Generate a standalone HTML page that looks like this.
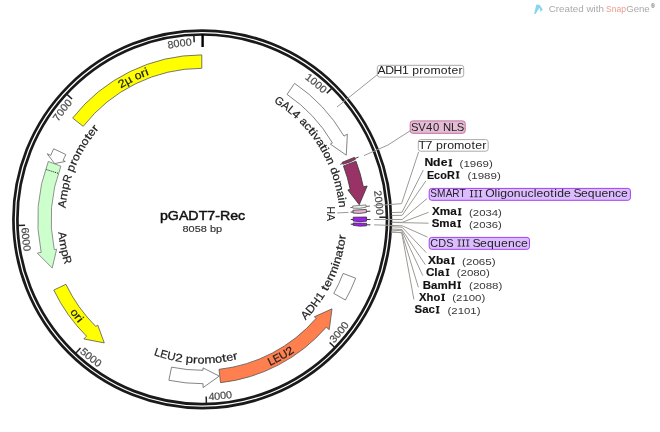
<!DOCTYPE html>
<html><head><meta charset="utf-8"><style>
html,body{margin:0;padding:0;background:#fff;width:660px;height:432px;overflow:hidden}
svg{display:block;will-change:transform}
text{font-family:"Liberation Sans", sans-serif}
.tk{stroke:#4a4a4a;stroke-width:0.2}
.lb{stroke:#222;stroke-width:0.2}
</style></head><body>
<svg width="660" height="432" viewBox="0 0 660 432">
<defs>
</defs>
<circle cx="202.2" cy="219.3" r="188.75" fill="none" stroke="#1a1a1a" stroke-width="2.7"/>
<circle cx="202.2" cy="219.3" r="184.8" fill="none" stroke="#1a1a1a" stroke-width="2.7"/>
<line x1="331.92" y1="88.10" x2="326.79" y2="93.29" stroke="#222" stroke-width="1.5"/>
<line x1="386.69" y1="217.21" x2="379.39" y2="217.30" stroke="#222" stroke-width="1.5"/>
<line x1="334.85" y1="347.53" x2="329.61" y2="342.46" stroke="#222" stroke-width="1.5"/>
<line x1="206.37" y1="403.75" x2="206.21" y2="396.45" stroke="#222" stroke-width="1.5"/>
<line x1="75.48" y1="353.40" x2="80.49" y2="348.09" stroke="#222" stroke-width="1.5"/>
<line x1="17.81" y1="225.56" x2="25.10" y2="225.31" stroke="#222" stroke-width="1.5"/>
<line x1="66.68" y1="94.10" x2="72.04" y2="99.06" stroke="#222" stroke-width="1.5"/>
<line x1="193.86" y1="34.99" x2="194.19" y2="42.28" stroke="#222" stroke-width="1.5"/>
<line x1="202.6" y1="34.30000000000001" x2="202.6" y2="47.0" stroke="#000" stroke-width="2.4"/>
<path id="tk1" d="M156.22,51.49 A174.0,174.0 0 0 1 322.82,93.89" fill="none"/>
<text class="tk" font-size="10.4" fill="#4a4a4a"><textPath href="#tk1" startOffset="100%" text-anchor="end" textLength="24" lengthAdjust="spacingAndGlyphs">1000</textPath></text>
<path id="tk2" d="M287.49,67.64 A174.0,174.0 0 0 1 376.15,214.93" fill="none"/>
<text class="tk" font-size="10.4" fill="#4a4a4a"><textPath href="#tk2" startOffset="100%" text-anchor="end" textLength="24" lengthAdjust="spacingAndGlyphs">2000</textPath></text>
<path id="tk3" d="M333.99,343.36 A181.0,181.0 0 0 0 376.21,169.50" fill="none"/>
<text class="tk" font-size="10.4" fill="#4a4a4a"><textPath href="#tk3" startOffset="0" text-anchor="start" textLength="24" lengthAdjust="spacingAndGlyphs">3000</textPath></text>
<path id="tk4" d="M208.69,400.18 A181.0,181.0 0 0 0 360.96,306.23" fill="none"/>
<text class="tk" font-size="10.4" fill="#4a4a4a"><textPath href="#tk4" startOffset="0" text-anchor="start" textLength="24" lengthAdjust="spacingAndGlyphs">4000</textPath></text>
<path id="tk5" d="M79.64,352.49 A181.0,181.0 0 0 0 253.97,392.74" fill="none"/>
<text class="tk" font-size="10.4" fill="#4a4a4a"><textPath href="#tk5" startOffset="0" text-anchor="start" textLength="24" lengthAdjust="spacingAndGlyphs">5000</textPath></text>
<path id="tk6" d="M21.40,227.84 A181.0,181.0 0 0 0 117.07,379.03" fill="none"/>
<text class="tk" font-size="10.4" fill="#4a4a4a"><textPath href="#tk6" startOffset="0" text-anchor="start" textLength="24" lengthAdjust="spacingAndGlyphs">6000</textPath></text>
<path id="tk7" d="M36.04,270.95 A174.0,174.0 0 0 1 72.78,103.00" fill="none"/>
<text class="tk" font-size="10.4" fill="#4a4a4a"><textPath href="#tk7" startOffset="100%" text-anchor="end" textLength="24" lengthAdjust="spacingAndGlyphs">7000</textPath></text>
<path id="tk8" d="M47.73,139.20 A174.0,174.0 0 0 1 191.94,45.60" fill="none"/>
<text class="tk" font-size="10.4" fill="#4a4a4a"><textPath href="#tk8" startOffset="100%" text-anchor="end" textLength="24" lengthAdjust="spacingAndGlyphs">8000</textPath></text>
<path d="M72.65,118.09 A164.4,164.4 0 0 1 201.77,54.90 L201.80,68.30 A151.0,151.0 0 0 0 83.21,126.34 Z" fill="#ffff00" stroke="#555" stroke-width="0.8"/>
<path d="M48.31,161.46 A164.4,164.4 0 0 0 41.16,252.36 L37.34,253.14 L52.22,268.03 L56.64,249.18 L54.28,249.66 A151.0,151.0 0 0 1 60.86,166.17 Z" fill="#ccffcc" stroke="#777" stroke-width="0.8"/>
<line x1="57.87" y1="173.24" x2="46.06" y2="169.47" stroke="#000" stroke-width="1" stroke-dasharray="1,1.2"/>
<path d="M53.69,148.78 A164.4,164.4 0 0 0 50.76,155.33 L47.16,153.81 L54.68,163.56 L65.31,161.48 L63.10,160.54 A151.0,151.0 0 0 1 65.80,154.53 Z" fill="#fff" stroke="#666" stroke-width="0.8"/>
<path d="M53.81,290.08 A164.4,164.4 0 0 0 86.56,336.16 L83.82,338.93 L104.24,342.89 L97.68,324.92 L95.99,326.63 A151.0,151.0 0 0 1 65.91,284.31 Z" fill="#ffff00" stroke="#555" stroke-width="0.8"/>
<path d="M168.86,380.28 A164.4,164.4 0 0 0 203.06,383.70 L203.08,387.60 L219.23,376.08 L202.98,367.90 L202.99,370.30 A151.0,151.0 0 0 1 171.58,367.16 Z" fill="#fff" stroke="#666" stroke-width="0.8"/>
<path d="M220.53,382.68 A164.4,164.4 0 0 0 326.27,327.16 L329.22,329.71 L332.01,308.85 L314.35,316.79 L316.16,318.36 A151.0,151.0 0 0 1 219.03,369.36 Z" fill="#ff7f4f" stroke="#555" stroke-width="0.8"/>
<path d="M355.68,278.22 A164.4,164.4 0 0 1 345.43,300.00 L333.75,293.43 A151.0,151.0 0 0 0 343.17,273.41 Z" fill="#fff" stroke="#666" stroke-width="0.8"/>
<path d="M294.61,83.33 A164.4,164.4 0 0 1 344.00,136.11 L347.36,134.13 L346.27,155.16 L330.37,144.10 L332.44,142.89 A151.0,151.0 0 0 0 287.07,94.41 Z" fill="#fff" stroke="#666" stroke-width="0.8"/>
<path d="M355.99,161.19 A164.4,164.4 0 0 1 363.36,186.81 L367.18,186.03 L359.23,204.73 L347.87,189.93 L350.22,189.45 A151.0,151.0 0 0 0 343.45,165.93 Z" fill="#993366" stroke="#333" stroke-width="0.8"/>
<line x1="352.73" y1="207.43" x2="350.34" y2="207.62" stroke="#555" stroke-width="0.9"/><line x1="366.09" y1="206.37" x2="369.98" y2="206.07" stroke="#555" stroke-width="0.9"/><path d="M365.97,204.91 A164.4,164.4 0 0 1 366.15,207.21 L359.52,208.30 L352.79,208.19 A151.0,151.0 0 0 0 352.62,206.09 Z" fill="#f2f2f2" stroke="#555" stroke-width="0.7"/>
<line x1="342.50" y1="163.47" x2="340.27" y2="164.36" stroke="#333" stroke-width="0.9"/><line x1="354.95" y1="158.51" x2="358.57" y2="157.07" stroke="#333" stroke-width="0.9"/><path d="M354.47,157.32 A164.4,164.4 0 0 1 355.32,159.45 L349.28,162.40 L342.84,164.33 A151.0,151.0 0 0 0 342.06,162.37 Z" fill="#993366" stroke="#333" stroke-width="0.7"/>
<line x1="353.02" y1="212.02" x2="350.63" y2="212.14" stroke="#222" stroke-width="0.9"/><line x1="366.41" y1="211.38" x2="370.30" y2="211.19" stroke="#222" stroke-width="0.9"/><path d="M366.30,209.40 A164.4,164.4 0 0 1 366.46,212.52 L359.79,213.40 L353.07,213.08 A151.0,151.0 0 0 0 352.93,210.20 Z" fill="#e6b2d2" stroke="#222" stroke-width="0.7"/>
<line x1="353.20" y1="219.49" x2="350.80" y2="219.49" stroke="#222" stroke-width="0.9"/><line x1="366.60" y1="219.51" x2="370.50" y2="219.51" stroke="#222" stroke-width="0.9"/><path d="M366.58,217.01 A164.4,164.4 0 0 1 366.59,221.18 L359.88,221.70 L353.19,221.02 A151.0,151.0 0 0 0 353.19,217.19 Z" fill="#a020f0" stroke="#222" stroke-width="0.7"/>
<line x1="353.12" y1="224.28" x2="350.72" y2="224.20" stroke="#222" stroke-width="0.9"/><line x1="366.51" y1="224.72" x2="370.41" y2="224.85" stroke="#222" stroke-width="0.9"/><path d="M366.55,223.26 A164.4,164.4 0 0 1 366.47,225.87 L359.75,226.20 L353.08,225.33 A151.0,151.0 0 0 0 353.16,222.94 Z" fill="#a020f0" stroke="#222" stroke-width="0.7"/>
<text class="lb" x="0" y="0" text-anchor="middle" font-size="11.2" fill="#222" transform="translate(123.68 86.82) rotate(329.34) scale(1.134 1)">2</text>
<text class="lb" x="0" y="0" text-anchor="middle" font-size="11.2" fill="#222" transform="translate(129.83 83.36) rotate(331.97) scale(1.094 1)">µ</text>
<text class="lb" x="0" y="0" text-anchor="middle" font-size="11.2" fill="#222" transform="translate(139.22 78.77) rotate(335.86) scale(1.090 1)">o</text>
<text class="lb" x="0" y="0" text-anchor="middle" font-size="11.2" fill="#222" transform="translate(144.44 76.54) rotate(337.97) scale(1.224 1)">r</text>
<text class="lb" x="0" y="0" text-anchor="middle" font-size="11.2" fill="#222" transform="translate(148.01 75.15) rotate(339.40) scale(1.239 1)">i</text>
<text class="lb" x="0" y="0" text-anchor="middle" font-size="11.2" fill="#222" transform="translate(65.79 204.57) rotate(276.16) scale(1.014 1)">A</text>
<text class="lb" x="0" y="0" text-anchor="middle" font-size="11.2" fill="#222" transform="translate(67.08 195.48) rotate(280.00) scale(1.156 1)">m</text>
<text class="lb" x="0" y="0" text-anchor="middle" font-size="11.2" fill="#222" transform="translate(68.91 186.77) rotate(283.72) scale(1.128 1)">p</text>
<text class="lb" x="0" y="0" text-anchor="middle" font-size="11.2" fill="#222" transform="translate(70.85 179.67) rotate(286.79) scale(0.951 1)">R</text>
<text class="lb" x="0" y="0" text-anchor="middle" font-size="11.2" fill="#222" transform="translate(74.40 169.39) rotate(291.33) scale(1.128 1)">p</text>
<text class="lb" x="0" y="0" text-anchor="middle" font-size="11.2" fill="#222" transform="translate(76.62 164.04) rotate(293.75) scale(1.220 1)">r</text>
<text class="lb" x="0" y="0" text-anchor="middle" font-size="11.2" fill="#222" transform="translate(79.01 158.91) rotate(296.11) scale(1.087 1)">o</text>
<text class="lb" x="0" y="0" text-anchor="middle" font-size="11.2" fill="#222" transform="translate(83.12 151.16) rotate(299.78) scale(1.156 1)">m</text>
<text class="lb" x="0" y="0" text-anchor="middle" font-size="11.2" fill="#222" transform="translate(87.72 143.68) rotate(303.44) scale(1.087 1)">o</text>
<text class="lb" x="0" y="0" text-anchor="middle" font-size="11.2" fill="#222" transform="translate(90.87 139.11) rotate(305.77) scale(1.350 1)">t</text>
<text class="lb" x="0" y="0" text-anchor="middle" font-size="11.2" fill="#222" transform="translate(94.22 134.65) rotate(308.09) scale(1.094 1)">e</text>
<text class="lb" x="0" y="0" text-anchor="middle" font-size="11.2" fill="#222" transform="translate(97.82 130.26) rotate(310.47) scale(1.220 1)">r</text>
<text class="lb" x="0" y="0" text-anchor="middle" font-size="11.2" fill="#222" transform="translate(58.57 236.00) rotate(83.37) scale(1.016 1)">A</text>
<text class="lb" x="0" y="0" text-anchor="middle" font-size="11.2" fill="#222" transform="translate(59.92 245.11) rotate(79.72) scale(1.159 1)">m</text>
<text class="lb" x="0" y="0" text-anchor="middle" font-size="11.2" fill="#222" transform="translate(61.79 253.84) rotate(76.18) scale(1.131 1)">p</text>
<text class="lb" x="0" y="0" text-anchor="middle" font-size="11.2" fill="#222" transform="translate(63.73 260.96) rotate(73.26) scale(0.954 1)">R</text>
<text class="lb" x="0" y="0" text-anchor="middle" font-size="11.2" fill="#222" transform="translate(71.70 314.62) rotate(53.86) scale(1.090 1)">o</text>
<text class="lb" x="0" y="0" text-anchor="middle" font-size="11.2" fill="#222" transform="translate(75.13 319.14) rotate(51.84) scale(1.224 1)">r</text>
<text class="lb" x="0" y="0" text-anchor="middle" font-size="11.2" fill="#222" transform="translate(77.53 322.12) rotate(50.49) scale(1.239 1)">i</text>
<text class="lb" x="0" y="0" text-anchor="middle" font-size="11.2" fill="#222" transform="translate(156.53 356.08) rotate(18.46) scale(1.023 1)">L</text>
<text class="lb" x="0" y="0" text-anchor="middle" font-size="11.2" fill="#222" transform="translate(163.03 358.08) rotate(15.76) scale(0.968 1)">E</text>
<text class="lb" x="0" y="0" text-anchor="middle" font-size="11.2" fill="#222" transform="translate(170.59 359.99) rotate(12.66) scale(1.035 1)">U</text>
<text class="lb" x="0" y="0" text-anchor="middle" font-size="11.2" fill="#222" transform="translate(178.27 361.50) rotate(9.55) scale(1.169 1)">2</text>
<text class="lb" x="0" y="0" text-anchor="middle" font-size="11.2" fill="#222" transform="translate(189.08 362.90) rotate(5.22) scale(1.166 1)">p</text>
<text class="lb" x="0" y="0" text-anchor="middle" font-size="11.2" fill="#222" transform="translate(195.05 363.32) rotate(2.84) scale(1.261 1)">r</text>
<text class="lb" x="0" y="0" text-anchor="middle" font-size="11.2" fill="#222" transform="translate(200.90 363.49) rotate(0.52) scale(1.124 1)">o</text>
<text class="lb" x="0" y="0" text-anchor="middle" font-size="11.2" fill="#222" transform="translate(209.97 363.29) rotate(-3.09) scale(1.194 1)">m</text>
<text class="lb" x="0" y="0" text-anchor="middle" font-size="11.2" fill="#222" transform="translate(219.00 362.52) rotate(-6.69) scale(1.124 1)">o</text>
<text class="lb" x="0" y="0" text-anchor="middle" font-size="11.2" fill="#222" transform="translate(224.69 361.74) rotate(-8.97) scale(1.350 1)">t</text>
<text class="lb" x="0" y="0" text-anchor="middle" font-size="11.2" fill="#222" transform="translate(230.36 360.72) rotate(-11.26) scale(1.130 1)">e</text>
<text class="lb" x="0" y="0" text-anchor="middle" font-size="11.2" fill="#222" transform="translate(236.09 359.46) rotate(-13.59) scale(1.261 1)">r</text>
<text class="lb" x="0" y="0" text-anchor="middle" font-size="11.2" fill="#222" transform="translate(272.70 364.71) rotate(-25.86) scale(0.993 1)">L</text>
<text class="lb" x="0" y="0" text-anchor="middle" font-size="11.2" fill="#222" transform="translate(278.57 361.71) rotate(-28.20) scale(0.939 1)">E</text>
<text class="lb" x="0" y="0" text-anchor="middle" font-size="11.2" fill="#222" transform="translate(285.16 357.98) rotate(-30.89) scale(1.004 1)">U</text>
<text class="lb" x="0" y="0" text-anchor="middle" font-size="11.2" fill="#222" transform="translate(291.58 353.93) rotate(-33.58) scale(1.134 1)">2</text>
<text class="lb" x="0" y="0" text-anchor="middle" font-size="11.2" fill="#222" transform="translate(308.20 317.36) rotate(-47.23) scale(1.032 1)">A</text>
<text class="lb" x="0" y="0" text-anchor="middle" font-size="11.2" fill="#222" transform="translate(313.59 311.19) rotate(-50.48) scale(1.072 1)">D</text>
<text class="lb" x="0" y="0" text-anchor="middle" font-size="11.2" fill="#222" transform="translate(318.85 304.42) rotate(-53.88) scale(1.047 1)">H</text>
<text class="lb" x="0" y="0" text-anchor="middle" font-size="11.2" fill="#222" transform="translate(323.28 297.98) rotate(-56.98) scale(1.151 1)">1</text>
<text class="lb" x="0" y="0" text-anchor="middle" font-size="11.2" fill="#222" transform="translate(328.13 289.96) rotate(-60.70) scale(1.350 1)">t</text>
<text class="lb" x="0" y="0" text-anchor="middle" font-size="11.2" fill="#222" transform="translate(330.81 284.96) rotate(-62.95) scale(1.113 1)">e</text>
<text class="lb" x="0" y="0" text-anchor="middle" font-size="11.2" fill="#222" transform="translate(333.33 279.76) rotate(-65.25) scale(1.242 1)">r</text>
<text class="lb" x="0" y="0" text-anchor="middle" font-size="11.2" fill="#222" transform="translate(336.41 272.59) rotate(-68.34) scale(1.176 1)">m</text>
<text class="lb" x="0" y="0" text-anchor="middle" font-size="11.2" fill="#222" transform="translate(338.85 265.97) rotate(-71.14) scale(1.258 1)">i</text>
<text class="lb" x="0" y="0" text-anchor="middle" font-size="11.2" fill="#222" transform="translate(340.42 261.09) rotate(-73.18) scale(1.146 1)">n</text>
<text class="lb" x="0" y="0" text-anchor="middle" font-size="11.2" fill="#222" transform="translate(342.29 254.32) rotate(-75.96) scale(1.108 1)">a</text>
<text class="lb" x="0" y="0" text-anchor="middle" font-size="11.2" fill="#222" transform="translate(343.55 248.80) rotate(-78.21) scale(1.350 1)">t</text>
<text class="lb" x="0" y="0" text-anchor="middle" font-size="11.2" fill="#222" transform="translate(344.60 243.25) rotate(-80.45) scale(1.107 1)">o</text>
<text class="lb" x="0" y="0" text-anchor="middle" font-size="11.2" fill="#222" transform="translate(345.44 237.55) rotate(-82.74) scale(1.242 1)">r</text>
<text class="lb" x="0" y="0" text-anchor="middle" font-size="11.2" fill="#222" transform="translate(277.30 104.24) rotate(33.13) scale(0.958 1)">G</text>
<text class="lb" x="0" y="0" text-anchor="middle" font-size="11.2" fill="#222" transform="translate(283.75 108.72) rotate(36.41) scale(0.986 1)">A</text>
<text class="lb" x="0" y="0" text-anchor="middle" font-size="11.2" fill="#222" transform="translate(289.03 112.82) rotate(39.20) scale(0.963 1)">L</text>
<text class="lb" x="0" y="0" text-anchor="middle" font-size="11.2" fill="#222" transform="translate(293.91 116.99) rotate(41.87) scale(1.100 1)">4</text>
<text class="lb" x="0" y="0" text-anchor="middle" font-size="11.2" fill="#222" transform="translate(301.21 124.04) rotate(46.10) scale(1.059 1)">a</text>
<text class="lb" x="0" y="0" text-anchor="middle" font-size="11.2" fill="#222" transform="translate(305.45 128.64) rotate(48.71) scale(1.057 1)">c</text>
<text class="lb" x="0" y="0" text-anchor="middle" font-size="11.2" fill="#222" transform="translate(308.72 132.51) rotate(50.83) scale(1.350 1)">t</text>
<text class="lb" x="0" y="0" text-anchor="middle" font-size="11.2" fill="#222" transform="translate(310.96 135.34) rotate(52.33) scale(1.202 1)">i</text>
<text class="lb" x="0" y="0" text-anchor="middle" font-size="11.2" fill="#222" transform="translate(313.76 139.09) rotate(54.29) scale(1.138 1)">v</text>
<text class="lb" x="0" y="0" text-anchor="middle" font-size="11.2" fill="#222" transform="translate(317.42 144.45) rotate(56.99) scale(1.059 1)">a</text>
<text class="lb" x="0" y="0" text-anchor="middle" font-size="11.2" fill="#222" transform="translate(320.28 149.04) rotate(59.24) scale(1.350 1)">t</text>
<text class="lb" x="0" y="0" text-anchor="middle" font-size="11.2" fill="#222" transform="translate(322.08 152.16) rotate(60.75) scale(1.202 1)">i</text>
<text class="lb" x="0" y="0" text-anchor="middle" font-size="11.2" fill="#222" transform="translate(324.35 156.38) rotate(62.75) scale(1.058 1)">o</text>
<text class="lb" x="0" y="0" text-anchor="middle" font-size="11.2" fill="#222" transform="translate(327.27 162.41) rotate(65.54) scale(1.096 1)">n</text>
<text class="lb" x="0" y="0" text-anchor="middle" font-size="11.2" fill="#222" transform="translate(331.16 171.89) rotate(69.82) scale(1.097 1)">d</text>
<text class="lb" x="0" y="0" text-anchor="middle" font-size="11.2" fill="#222" transform="translate(333.32 178.25) rotate(72.61) scale(1.058 1)">o</text>
<text class="lb" x="0" y="0" text-anchor="middle" font-size="11.2" fill="#222" transform="translate(335.62 186.47) rotate(76.18) scale(1.124 1)">m</text>
<text class="lb" x="0" y="0" text-anchor="middle" font-size="11.2" fill="#222" transform="translate(337.40 194.82) rotate(79.74) scale(1.059 1)">a</text>
<text class="lb" x="0" y="0" text-anchor="middle" font-size="11.2" fill="#222" transform="translate(338.17 199.55) rotate(81.74) scale(1.202 1)">i</text>
<text class="lb" x="0" y="0" text-anchor="middle" font-size="11.2" fill="#222" transform="translate(338.79 204.42) rotate(83.78) scale(1.096 1)">n</text>
<text x="0" y="0" font-size="10.4" fill="#222" textLength="14.4" lengthAdjust="spacingAndGlyphs" transform="translate(327.2 206.6) rotate(90)">HA</text>
<text x="202.6" y="219.5" text-anchor="middle" font-size="12.2" fill="#111" stroke="#111" stroke-width="0.45" textLength="85.3" lengthAdjust="spacingAndGlyphs">pGADT7-Rec</text>
<text x="202.3" y="231.7" text-anchor="middle" font-size="9.4" fill="#333" stroke="#333" stroke-width="0.15" textLength="39.5" lengthAdjust="spacingAndGlyphs">8058 bp</text>
<polyline points="337,107 377.5,74.5" fill="none" stroke="#9c9a94" stroke-width="1"/>
<polyline points="364,155.6 388,145 410.5,130.5" fill="none" stroke="#9c9a94" stroke-width="1"/>
<rect x="377.3" y="65.3" width="86.39999999999998" height="11.799999999999997" rx="2.5" fill="#fff" stroke="#aaa" stroke-width="1"/>
<text x="315.53 321.83 328.73 335.86 341.60 344.50 350.37 353.87 359.64 368.23 374.20 377.34 383.13" y="74.4" font-size="10.2" fill="#222" transform="scale(1.1968 1)">ADH1 promoter</text>
<rect x="410.2" y="120.9" width="55.0" height="12.400000000000006" rx="2.5" fill="#e4bcd4" stroke="#c4709f" stroke-width="1"/>
<text x="370.72 377.20 384.25 390.50 396.60 399.57 406.83 412.12" y="130.6" font-size="10.2" fill="#222" transform="scale(1.1086 1)">SV40 NLS</text>
<rect x="418.3" y="139.6" width="69.89999999999998" height="11.599999999999994" rx="2.5" fill="#fff" stroke="#aaa" stroke-width="1"/>
<text x="344.41 350.25 355.93 358.76 364.56 367.98 373.65 382.13 388.03 391.10 396.82" y="148.7" font-size="10.2" fill="#222" transform="scale(1.2152 1)">T7 promoter</text>
<rect x="429.2" y="188.4" width="201.2" height="11.900000000000006" rx="2.5" fill="#dcbcff" stroke="#a040f0" stroke-width="1"/>
<text x="435.12 441.94 450.71 457.48 464.74" y="197.2" font-size="10.2" fill="#222" transform="scale(0.9888 1)">SMART</text>
<path d="M469.90,190.00H473.20V190.80H472.05V196.40H473.20V197.20H469.90V196.40H471.05V190.80H469.90Z" fill="#222"/>
<path d="M474.35,190.00H477.65V190.80H476.50V196.40H477.65V197.20H474.35V196.40H475.50V190.80H474.35Z" fill="#222"/>
<path d="M478.80,190.00H482.10V190.80H480.95V196.40H482.10V197.20H478.80V196.40H479.95V190.80H478.80Z" fill="#222"/>
<text x="406.92 414.60 417.13 419.58 425.25 430.92 436.69 442.36 447.55 449.91 455.49 461.48 464.81 467.27 472.96 478.62 480.97 487.23 492.92 498.69 504.37 510.06 515.73 520.75" y="197.2" font-size="10.2" fill="#222" transform="scale(1.1925 1)">Oligonucleotide Sequence</text>
<rect x="429.2" y="237.4" width="100.30000000000001" height="11.900000000000006" rx="2.5" fill="#dcbcff" stroke="#a040f0" stroke-width="1"/>
<text x="401.16 408.68 416.15" y="246.6" font-size="10.2" fill="#222" transform="scale(1.0726 1)">CDS</text>
<path d="M457.50,239.40H460.80V240.20H459.65V245.80H460.80V246.60H457.50V245.80H458.65V240.20H457.50Z" fill="#222"/>
<path d="M461.80,239.40H465.10V240.20H463.95V245.80H465.10V246.60H461.80V245.80H462.95V240.20H461.80Z" fill="#222"/>
<path d="M466.10,239.40H469.40V240.20H468.25V245.80H469.40V246.60H466.10V245.80H467.25V240.20H466.10Z" fill="#222"/>
<text x="395.33 401.72 407.54 413.44 419.26 425.07 430.87 436.01" y="246.6" font-size="10.2" fill="#222" transform="scale(1.1951 1)">Sequence</text>
<text x="355.56 362.83 369.13" y="166.5" font-size="10.2" font-weight="bold" fill="#111" stroke="#111" stroke-width="0.15" transform="scale(1.1937 1)">Nde</text>
<path d="M448.60,159.15H452.10V160.30H451.25V165.35H452.10V166.50H448.60V165.35H449.45V160.30H448.60Z" fill="#111"/>
<text x="394.87 398.18 403.66 409.13 414.61 420.13" y="166.8" font-size="9.9" fill="#383838" transform="scale(1.1638 1)">(1969)</text>
<text x="403.41 410.06 415.89 422.27" y="178.6" font-size="10.2" font-weight="bold" fill="#111" stroke="#111" stroke-width="0.15" transform="scale(1.0586 1)">EcoR</text>
<path d="M455.90,171.25H459.40V172.40H458.55V177.45H459.40V178.60H455.90V177.45H456.75V172.40H455.90Z" fill="#111"/>
<text x="400.46 403.77 409.24 414.72 420.19 425.71" y="178.9" font-size="9.9" fill="#383838" transform="scale(1.1673 1)">(1989)</text>
<text x="375.25 381.97 391.10" y="215.5" font-size="10.2" font-weight="bold" fill="#111" stroke="#111" stroke-width="0.15" transform="scale(1.1510 1)">Xma</text>
<path d="M457.90,208.15H461.40V209.30H460.55V214.35H461.40V215.50H457.90V214.35H458.75V209.30H457.90Z" fill="#111"/>
<text x="407.93 411.25 416.72 422.19 427.67 433.19" y="215.8" font-size="9.9" fill="#383838" transform="scale(1.1498 1)">(2034)</text>
<text x="381.25 387.91 397.20" y="227.4" font-size="10.2" font-weight="bold" fill="#111" stroke="#111" stroke-width="0.15" transform="scale(1.1325 1)">Sma</text>
<path d="M457.50,220.05H461.00V221.20H460.15V226.25H461.00V227.40H457.50V226.25H458.35V221.20H457.50Z" fill="#111"/>
<text x="407.93 411.25 416.72 422.19 427.67 433.19" y="227.70000000000002" font-size="9.9" fill="#383838" transform="scale(1.1498 1)">(2036)</text>
<text x="363.93 370.65 376.95" y="264.5" font-size="10.2" font-weight="bold" fill="#111" stroke="#111" stroke-width="0.15" transform="scale(1.1761 1)">Xba</text>
<path d="M451.20,257.15H454.70V258.30H453.85V263.35H454.70V264.50H451.20V263.35H452.05V258.30H451.20Z" fill="#111"/>
<text x="391.15 394.46 399.93 405.41 410.88 416.40" y="264.8" font-size="9.9" fill="#383838" transform="scale(1.1812 1)">(2065)</text>
<text x="367.38 374.52 377.71" y="276.1" font-size="10.2" font-weight="bold" fill="#111" stroke="#111" stroke-width="0.15" transform="scale(1.1593 1)">Cla</text>
<path d="M445.80,268.75H449.30V269.90H448.45V274.95H449.30V276.10H445.80V274.95H446.65V269.90H445.80Z" fill="#111"/>
<text x="392.38 395.69 401.17 406.64 412.11 417.64" y="276.40000000000003" font-size="9.9" fill="#383838" transform="scale(1.1638 1)">(2080)</text>
<text x="375.33 382.56 388.50 397.70" y="288.9" font-size="10.2" font-weight="bold" fill="#111" stroke="#111" stroke-width="0.15" transform="scale(1.1264 1)">BamH</text>
<path d="M457.40,281.55H460.90V282.70H460.05V287.75H460.90V288.90H457.40V287.75H458.25V282.70H457.40Z" fill="#111"/>
<text x="403.03 406.35 411.82 417.30 422.77 428.29" y="289.2" font-size="9.9" fill="#383838" transform="scale(1.1638 1)">(2088)</text>
<text x="380.75 387.62 393.83" y="301.1" font-size="10.2" font-weight="bold" fill="#111" stroke="#111" stroke-width="0.15" transform="scale(1.1005 1)">Xho</text>
<path d="M441.30,293.75H444.80V294.90H443.95V299.95H444.80V301.10H441.30V299.95H442.15V294.90H441.30Z" fill="#111"/>
<text x="390.95 394.26 399.73 405.21 410.68 416.20" y="301.40000000000003" font-size="9.9" fill="#383838" transform="scale(1.1568 1)">(2100)</text>
<text x="370.45 377.38 383.17" y="313.4" font-size="10.2" font-weight="bold" fill="#111" stroke="#111" stroke-width="0.15" transform="scale(1.1186 1)">Sac</text>
<path d="M435.90,306.05H439.40V307.20H438.55V312.25H439.40V313.40H435.90V312.25H436.75V307.20H435.90Z" fill="#111"/>
<text x="388.05 391.37 396.84 402.32 407.79 413.31" y="313.7" font-size="9.9" fill="#383838" transform="scale(1.1533 1)">(2101)</text>
<polyline points="373.67,205.81 401.58,203.61 418.6,151.9" fill="none" stroke="#9c9a94" stroke-width="1"/>
<polyline points="391.58,212.59 402.07,212.22 423.3,170.0" fill="none" stroke="#9c9a94" stroke-width="1"/>
<polyline points="391.66,215.53 402.16,215.32 425.8,181.0" fill="none" stroke="#9c9a94" stroke-width="1"/>
<polyline points="374.20,219.51 402.20,219.54 427.1,198.5" fill="none" stroke="#9c9a94" stroke-width="1"/>
<polyline points="391.68,222.18 402.18,222.34 428.6,212.3" fill="none" stroke="#9c9a94" stroke-width="1"/>
<polyline points="391.67,222.47 402.17,222.65 428.6,223.2" fill="none" stroke="#9c9a94" stroke-width="1"/>
<polyline points="374.11,224.85 402.10,225.76 427.5,237.1" fill="none" stroke="#9c9a94" stroke-width="1"/>
<polyline points="391.55,226.77 402.04,227.19 426.3,252.7" fill="none" stroke="#9c9a94" stroke-width="1"/>
<polyline points="391.45,228.99 401.94,229.52 425.3,264.7" fill="none" stroke="#9c9a94" stroke-width="1"/>
<polyline points="391.39,230.14 401.87,230.74 422.8,275.6" fill="none" stroke="#9c9a94" stroke-width="1"/>
<polyline points="391.28,231.92 401.76,232.62 418.4,287.4" fill="none" stroke="#9c9a94" stroke-width="1"/>
<polyline points="391.27,232.06 401.75,232.76 413.9,299.5" fill="none" stroke="#9c9a94" stroke-width="1"/>
<line x1="348.54" y1="212.40" x2="337.25" y2="212.93" stroke="#9c9a94" stroke-width="1"/>
<path d="M534.1,13.8 L536.3,4.7 Q537.6,3.9 539.7,5.1 L542.8,9.4 L540.5,11.8 L539.4,7.7 L535.6,13.9 Z" fill="#86d6ef"/>
<text x="548.7" y="12.3" font-size="9.4" fill="#a9a9a9" textLength="55.2" lengthAdjust="spacingAndGlyphs">Created with</text>
<text x="606" y="12.3" font-size="9.4" fill="#ee9a90" textLength="20" lengthAdjust="spacingAndGlyphs">Snap</text>
<text x="626.2" y="12.3" font-size="9.4" fill="#a9a9a9" textLength="23.5" lengthAdjust="spacingAndGlyphs">Gene</text>
<text x="650.9" y="8.4" font-size="5.2" fill="#999" stroke="#999" stroke-width="0.2">®</text>
</svg></body></html>
